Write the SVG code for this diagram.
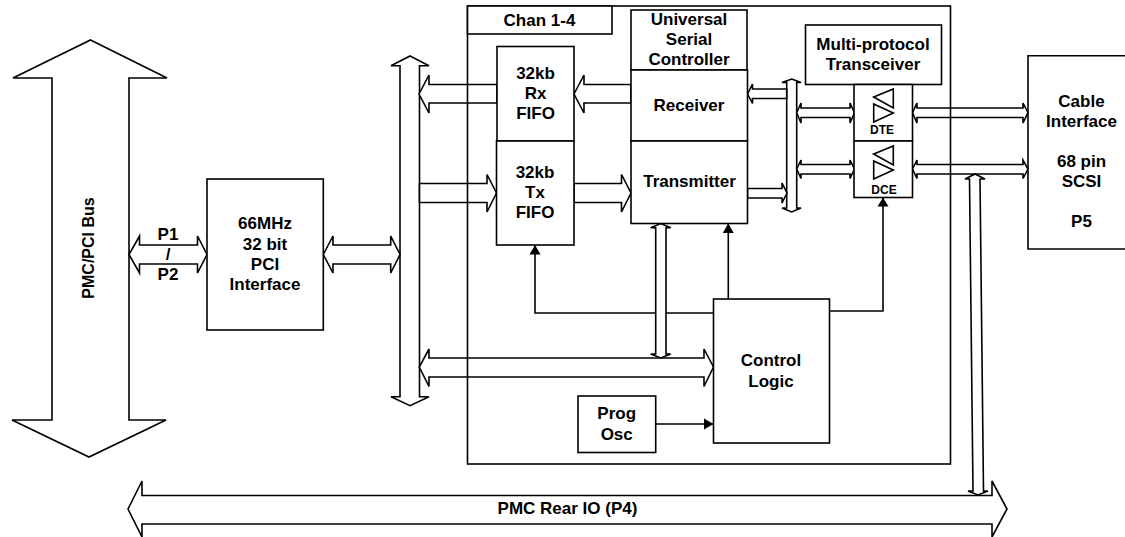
<svg xmlns="http://www.w3.org/2000/svg" width="1125" height="537" viewBox="0 0 1125 537">
<style>
.s{fill:#fff;stroke:#000;stroke-width:1.6;stroke-linejoin:miter}
.n{fill:none;stroke:#000;stroke-width:1.6}
.f{fill:#000;stroke:none}
text{font-family:"Liberation Sans",Arial,sans-serif;font-weight:bold;font-size:17px;fill:#000;text-anchor:middle}
.sm{font-size:12px}
</style>
<rect width="1125" height="537" fill="#fff"/>
<g id="connectors">
<path class="n" d="M713.5 313H535V245"/><path class="f" d="M535 245l-5.500 9.500h11z"/>
<path class="n" d="M728.300 299V223.500"/><path class="f" d="M728.300 223.500l-5.500 9.500h11z"/>
<path class="n" d="M829.500 311H883V197.500"/><path class="f" d="M883 197.500l-5.500 9h11z"/>
<path class="n" d="M655.700 424H713.500"/><path class="f" d="M713.500 424l-9.500-5.500v11z"/>
<path id="pmc-bus" class="s" d="M90.500 40L167 78H129V420H166L89 457L12 420H52V78H13Z"/>
<path id="rear-io" class="s" d="M128 509L142 481V495.500H992V481L1007 509L992 537V524H142V537Z"/>
<path id="pci-bus" class="s" d="M410 56L429 65.700H419.500V396.700H429L410 405.700L391 396.700H400V65.700H391Z"/>
<path class="s" d="M129 254.500L139.500 236V245H197.500V236L207 254.500L197.500 273V264H139.500V273Z"/>
<path class="s" d="M323.300 254.500L333 236V245H390.700V236L400 254.500L390.700 273V264H333V273Z"/>
<path class="s" d="M419 94L429 75V84.500H497V103H429V113Z"/>
<path class="s" d="M574 94L584 75V84.500H631V103H584V113Z"/>
<path class="s" d="M496.500 193L487 212V202.500H419.500V183.500H487V174.500Z"/>
<path class="s" d="M631 193L621.500 212V202.500H574V183.500H621.500V174.500Z"/>
<path class="s" d="M419.300 367L429 349V358H704V349L713.500 367L704 386.500V377H429V386.500Z"/>
<path class="s" d="M660.700 223.500L670.700 227.700H666V354H670.700L660.700 358L650.700 354H655.700V227.700H650.700Z"/>
<path class="s" d="M791.700 79L801 82.500H796.700V208H801L791.700 212L782 208H786.700V82.500H782Z"/>
<path class="s" d="M747.500 94L752.500 84V89H786.700V98.500H752.500V103.500Z"/>
<path class="s" d="M787 193L782 203V198H747.500V188.500H782V183Z"/>
<path class="s" d="M796.700 112.700L801 103V108H850V103L854.500 112.700L850 123V117.500H801V123Z"/>
<path class="s" d="M796.700 169L801 160V164.500H850V160L854.500 169L850 178.500V174H801V178.500Z"/>
<path class="s" d="M912.500 112.700L917 103V108H1023V103L1028 112.700L1023 123V117.500H917V123Z"/>
<path class="s" d="M912.500 169L917 160V164.500H1023V160L1028 169L1023 178.500V174H917V178.500Z"/>
<path class="s" d="M975 174L985 179H980L983.500 491H988L978 495L968 491H973L969.500 179H965Z"/>
</g>
<g id="channel"><rect class="n" x="467.5" y="6" width="483" height="458"/></g>
<g id="chan"><rect class="s" x="467.5" y="6" width="144.500" height="28"/><text x="539.500" y="26">Chan 1-4</text></g>
<g id="rx-fifo"><rect class="s" x="497" y="46.500" width="77" height="94.500"/><text x="535.500" y="79">32kb</text><text x="535.500" y="99">Rx</text><text x="535.500" y="118.500">FIFO</text></g>
<g id="tx-fifo"><rect class="s" x="496.500" y="141" width="77.500" height="104"/><text x="535" y="178">32kb</text><text x="535" y="198">Tx</text><text x="535" y="218">FIFO</text></g>
<g id="usc"><rect class="s" x="631" y="10" width="116" height="60"/><text x="689" y="25">Universal</text><text x="689" y="45">Serial</text><text x="689" y="65">Controller</text></g>
<g id="receiver"><rect class="s" x="631" y="70" width="116.500" height="71"/><text x="689" y="111">Receiver</text></g>
<g id="transmitter"><rect class="s" x="631" y="141" width="116.500" height="82.500"/><text x="689.500" y="187">Transmitter</text></g>
<g id="transceiver"><rect class="s" x="805.500" y="25" width="136" height="59.500"/><text x="873" y="50">Multi-protocol</text><text x="873" y="70">Transceiver</text></g>
<g id="dte"><rect class="s" x="854" y="84.500" width="58.500" height="56.500"/><path class="s" d="M873.700 97L893.300 89V108Z"/><path class="s" d="M873.700 104L893.300 113L873.700 122Z"/><text class="sm" x="882" y="134">DTE</text></g>
<g id="dce"><rect class="s" x="854" y="141" width="58.500" height="56.500"/><path class="s" d="M873.700 154L893.300 146V165Z"/><path class="s" d="M873.700 161L893.300 170L873.700 179Z"/><text class="sm" x="884" y="194">DCE</text></g>
<g id="cable"><path class="s" d="M1126 55.700H1028V249H1126"/><text x="1081.500" y="107">Cable</text><text x="1081.500" y="127">Interface</text><text x="1081.500" y="167">68 pin</text><text x="1081.500" y="187">SCSI</text><text x="1081.500" y="227">P5</text></g>
<g id="pci"><rect class="s" x="207" y="179" width="116.300" height="151"/><text x="265" y="229">66MHz</text><text x="265" y="250">32 bit</text><text x="265" y="270">PCI</text><text x="265" y="290">Interface</text></g>
<g id="control"><rect class="s" x="713.500" y="299" width="116" height="144"/><text x="771" y="366">Control</text><text x="771" y="387">Logic</text></g>
<g id="osc"><rect class="s" x="578" y="396" width="77.700" height="56.500"/><text x="616.700" y="419">Prog</text><text x="616.700" y="440">Osc</text></g>
<g id="labels">
<text x="168" y="240">P1</text><text x="168" y="260">/</text><text x="168" y="280">P2</text>
<text x="567.500" y="514">PMC Rear IO (P4)</text>
<text transform="translate(94 248) rotate(-90)" style="font-size:16px">PMC/PCI Bus</text>
</g>
</svg>
